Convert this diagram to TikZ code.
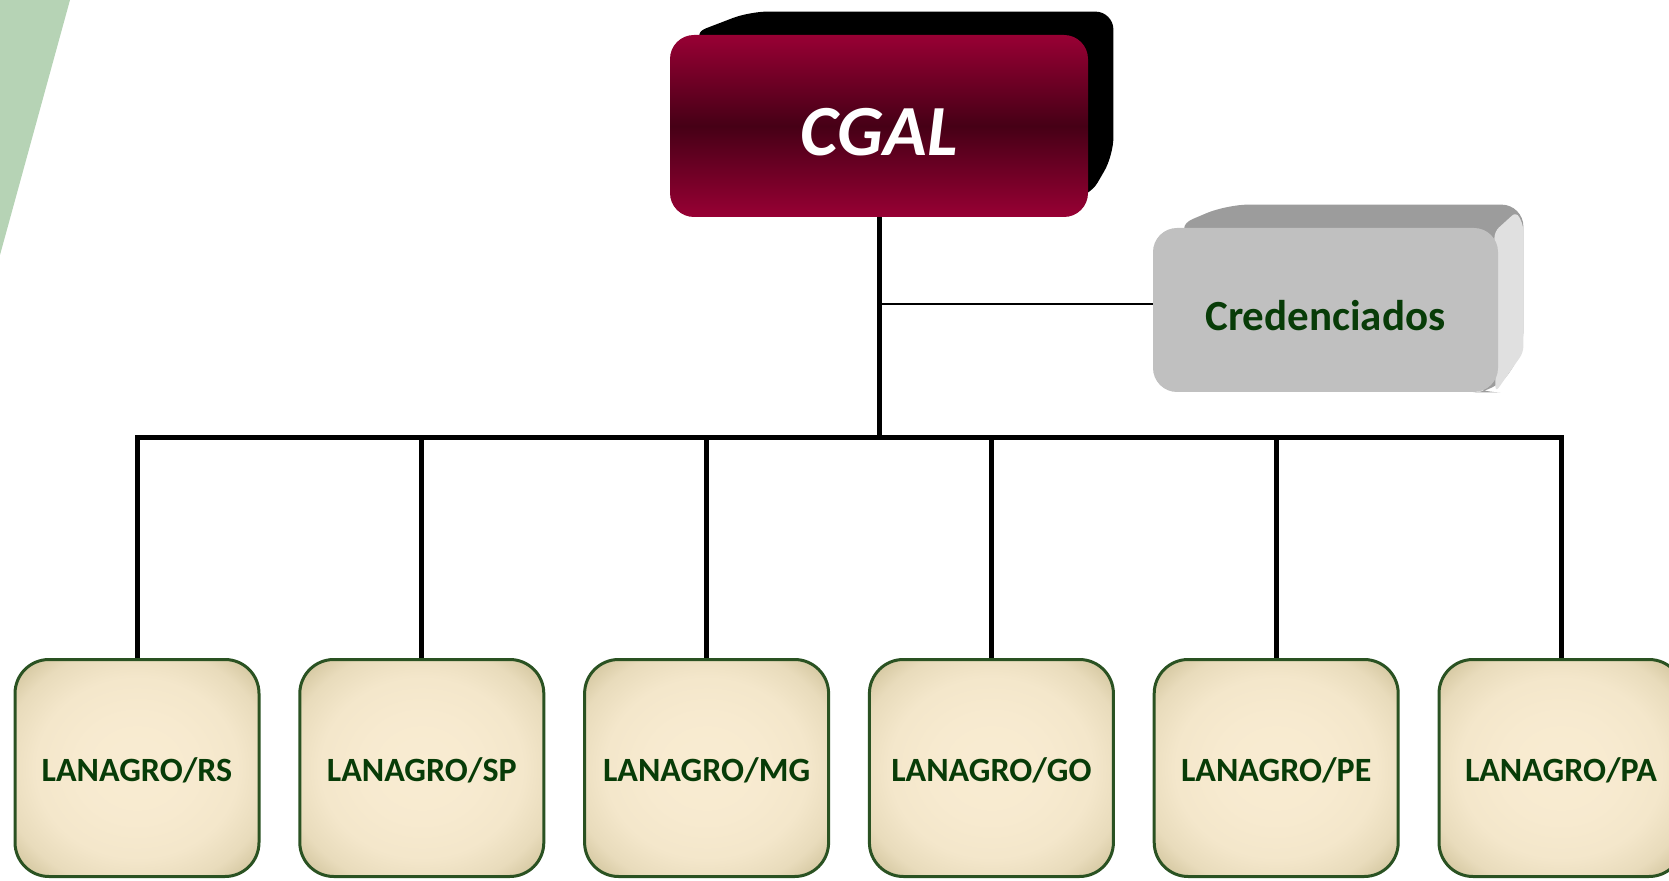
\documentclass[tikz,border=0pt]{standalone}
\usepackage{fontspec}
\setmainfont{Carlito}
\usepackage{xcolor}
\usepackage{tikz}
\usetikzlibrary{positioning}
\usetikzlibrary{backgrounds}
\definecolor{labgreen}{RGB}{8,60,8}
\definecolor{edgegreen}{RGB}{42,82,34}
\definecolor{cream}{RGB}{249,236,210}
\definecolor{tanbox}{RGB}{212,199,160}
\definecolor{wine}{RGB}{152,0,52}
\definecolor{darkwine}{RGB}{70,0,22}
\definecolor{sage}{RGB}{182,211,181}
\definecolor{silver}{RGB}{192,192,192}
\definecolor{silvertop}{RGB}{156,156,156}
\definecolor{silverside}{RGB}{224,224,224}

\pgfdeclareradialshading{labshade}{\pgfpoint{0bp}{0bp}}{color(0bp)=(cream);
  color(12bp)=(cream!95!tanbox); color(21bp)=(cream!85!tanbox); color(28bp)=(cream!55!tanbox);
  color(33bp)=(tanbox); color(50bp)=(tanbox)}

\tikzset{
  lab/.style={draw=edgegreen,line width=1.5pt,rounded corners=17pt,
    minimum width=122pt,minimum height=108.5pt,shading=labshade,
    text=labgreen,font=\fontsize{17}{20}\selectfont\bfseries},
  chief/.style={rounded corners=12pt,minimum width=209pt,minimum height=91pt,
    top color=wine,bottom color=wine,middle color=darkwine,
    text=white,font=\fontsize{36}{40}\selectfont\bfseries\itshape},
  extra/.style={rounded corners=12pt,minimum width=172.5pt,minimum height=82pt,
    fill=silver,text=labgreen,font=\fontsize{21.5}{24}\selectfont\bfseries},
  busline/.style={line width=2.5pt,black},
  thinline/.style={line width=0.75pt,black}
}
\newcommand{\sinktext}[2]{\raisebox{-#1}[\height][0pt]{#2}}

\begin{document}
\begin{tikzpicture}[x=0.5pt,y=-0.5pt]
\useasboundingbox (0,0) rectangle (1669,881);
\clip (0,0) rectangle (1669,881);
\fill[sage] (0,0) -- (70,0) -- (0,255) -- cycle;

  \node[chief] at (879,126) (cgal) {\sinktext{2.7pt}{CGAL}};
  \node[extra] at (1325.5,310) (cred) {\sinktext{2.7pt}{Credenciados}};

  \node[lab] at (137,768) (lrs) {\sinktext{1pt}{LANAGRO/RS}};
  \node[lab] at ([xshift=142.4pt]lrs) (lsp) {\sinktext{1pt}{LANAGRO/SP}};
  \node[lab] at ([xshift=142.4pt]lsp) (lmg) {\sinktext{1pt}{LANAGRO/MG}};
  \node[lab] at ([xshift=142.4pt]lmg) (lgo) {\sinktext{1pt}{LANAGRO/GO}};
  \node[lab] at ([xshift=142.4pt]lgo) (lpe) {\sinktext{1pt}{LANAGRO/PE}};
  \node[lab] at ([xshift=142.4pt]lpe) (lpa) {\sinktext{1pt}{LANAGRO/PA}};

  \begin{scope}[on background layer]
  \fill[black,rounded corners=9pt] ([shift={(20,0)}]cgal.north west) -- ([shift={(80,-23)}]cgal.north west)
    -- ([shift={(25,-23)}]cgal.north east) -- ([shift={(25,-62)}]cgal.south east)
    -- ([shift={(0,-19)}]cgal.south east) -- ([shift={(-20,-19)}]cgal.south east) -- cycle;
  \fill[silvertop,rounded corners=11pt] ([shift={(20,0)}]cred.north west) -- ([shift={(74,-23)}]cred.north west)
    -- ([shift={(25,-23)}]cred.north east) -- ([shift={(25,-40)}]cred.south east)
    -- ([shift={(-3,0)}]cred.south east) -- ([shift={(-20,0)}]cred.south east) -- cycle;
  % side face
  \fill[silverside,rounded corners=3pt] ([shift={(-4,4)}]cred.north east) -- ([shift={(18,-16)}]cred.north east)
    -- ([shift={(25,-2)}]cred.north east) -- ([shift={(25,-40)}]cred.south east)
    -- ([shift={(-3,0)}]cred.south east) -- cycle;
  \end{scope}

  \coordinate (bus) at ([yshift=-110pt]cgal.south);
  \draw[busline] (cgal.south) -- (bus);
  \draw[busline] (lrs.north) -- (lrs.north |- bus) -- (lpa.north |- bus) -- (lpa.north);
  \foreach \n in {lsp,lmg,lgo,lpe}
    \draw[busline] (\n.north |- bus) -- (\n.north);
  \draw[thinline] (cgal.south |- cred.west) ++(0,-6) -- ([yshift=3pt]cred.west);

\end{tikzpicture}
\end{document}
